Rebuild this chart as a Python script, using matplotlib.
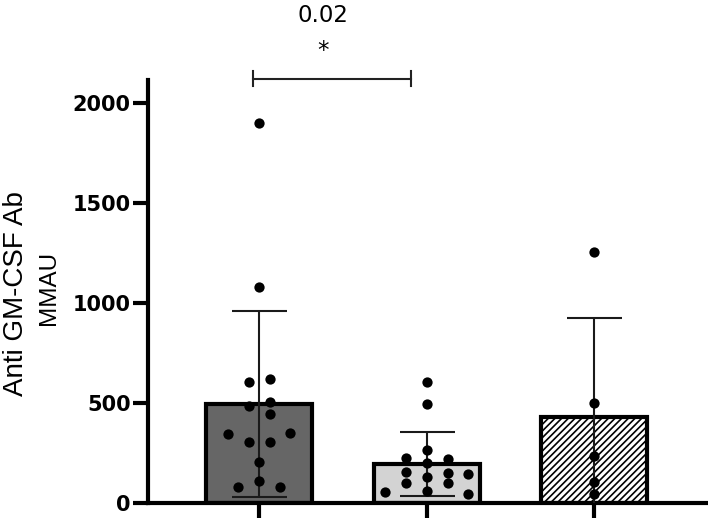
import matplotlib
matplotlib.use("Agg")
import matplotlib.pyplot as plt
import numpy as np

# ---- data ----
groups = ["Group 1", "Group 2", "Group 3"]
means = [495, 196, 429]
sds = [467, 161, 495]
group1_values = [1902, 1082, 607, 618, 487, 507, 443, 345, 352, 307, 307, 205, 112, 78, 78]
group2_values = [607, 495, 265, 223, 218, 198, 153, 148, 145, 128, 98, 98, 62, 53, 45]
group3_values = [1257, 502, 235, 107, 45]
yticks = [0, 500, 1000, 1500, 2000]
p_label = "0.02"
star_label = "*"
ylabel_line1 = "Anti GM-CSF Ab"
ylabel_line2 = "MMAU"

# ---- layout (swarm slots, not data) ----
group1_slots = [0, 0, -1, 1, -1, 1, 1, -3, 3, -1, 1, 0, 0, -2, 2]
group2_slots = [0, 0, 0, -2, 2, 0, -2, 2, 4, 0, -2, 2, 0, -4, 4]
group3_slots = [0, 0, 0, 0, 0]
slot_step = 0.0625

W, H = 708, 520
fig = plt.figure(figsize=(W / 100, H / 100), dpi=100)
fig.patch.set_facecolor("white")
ax = fig.add_axes([147.5 / W, 17 / H, (W - 147.5) / W, 423 / H])

x = np.arange(len(groups))
fills = ["#666666", "#d3d3d3", "white"]
plt.rcParams["hatch.linewidth"] = 1.2
bars = ax.bar(x, means, width=0.633, color=fills, edgecolor="black",
              linewidth=3, zorder=2)
bars[2].set_hatch("/////")

ax.errorbar(x, means, yerr=sds, fmt="none", ecolor="#1a1a1a", elinewidth=1.5,
            capsize=19.8, capthick=1.5, zorder=3)

for i, (vals, slots) in enumerate([(group1_values, group1_slots),
                                   (group2_values, group2_slots),
                                   (group3_values, group3_slots)]):
    xs = i + np.array(slots) * slot_step
    ax.plot(xs, vals, "o", color="black", ms=7.4, mew=0, zorder=4, clip_on=False)

ax.set_xlim(-0.666, 2.68)
ax.set_ylim(0, 2115)

for s in ["top", "right"]:
    ax.spines[s].set_visible(False)
for s in ["left", "bottom"]:
    ax.spines[s].set_linewidth(3)
    ax.spines[s].set_capstyle("projecting")

ax.set_yticks(yticks)
ax.set_yticklabels([str(v) for v in yticks], fontfamily="DejaVu Sans",
                   fontweight="bold", fontsize=15)
ax.set_xticks(x)
ax.set_xticklabels([])
ax.tick_params(axis="both", direction="out", length=10.8, width=3, pad=1.2)

# significance bracket
bx0, bx1, by = -0.034, 0.905, 2122
tick_h = 37.5
ax.plot([bx0, bx1], [by, by], color="#222222", lw=1.5, clip_on=False)
ax.plot([bx0, bx0], [by - tick_h, by + tick_h], color="#222222", lw=1.5, clip_on=False)
ax.plot([bx1, bx1], [by - tick_h, by + tick_h], color="#222222", lw=1.5, clip_on=False)
ax.text(0.379, 2405, p_label, ha="center", va="baseline", fontsize=16.5,
        fontfamily="DejaVu Sans", clip_on=False)
ax.text(0.379, 2228, star_label, ha="center", va="baseline", fontsize=16.5,
        fontfamily="DejaVu Sans", clip_on=False)

# y label (two lines)
fig.text(23.3 / W, 1 - 293.3 / H, ylabel_line1, rotation=90, rotation_mode="anchor",
         ha="center", va="baseline", fontsize=20, fontfamily="Liberation Sans")
fig.text(55 / W, 1 - 288.3 / H, ylabel_line2, rotation=90, rotation_mode="anchor",
         ha="center", va="baseline", fontsize=17.5, fontfamily="Liberation Sans")

fig.savefig("out.png", dpi=100)
